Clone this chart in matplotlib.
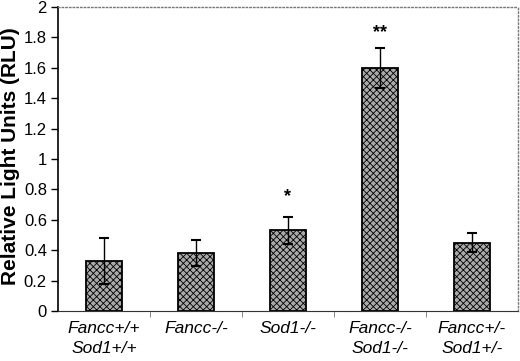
import matplotlib
matplotlib.use("Agg")
import matplotlib.pyplot as plt
import numpy as np

plt.rcParams['font.family'] = ['Liberation Sans', 'DejaVu Sans']
plt.rcParams['hatch.color'] = '#8a8a8a'
plt.rcParams['hatch.linewidth'] = 0.6

groups = ['Fancc+/+\nSod1+/+', 'Fancc-/-', 'Sod1-/-', 'Fancc-/-\nSod1-/-', 'Fancc+/-\nSod1+/-']
rlu = [0.33, 0.38, 0.53, 1.60, 0.45]
err = [0.15, 0.085, 0.09, 0.13, 0.06]
marks = ['', '', '*', '**', '']
mark_y = [0, 0, 0.75, 1.83, 0]

fig = plt.figure(figsize=(5.2, 3.61), dpi=100)
ax = fig.add_axes([58/520, 50/361, 460/520, 304/361])

x = np.arange(len(groups))
ax.bar(x, rlu, width=0.4, color='#aaaaaa', edgecolor='black', linewidth=1.3,
       hatch='xxxxx', zorder=2)
ax.errorbar(x, rlu, yerr=err, fmt='none', ecolor='black', elinewidth=1,
            capsize=3.5, capthick=1.5, zorder=3)

for xi, m, my in zip(x, marks, mark_y):
    if m:
        ax.text(xi, my, m, ha='center', va='center', fontsize=13, fontweight='bold')

ax.set_xlim(-0.5, len(groups) - 0.5)
ax.set_ylim(0, 2)
ax.set_yticks(np.arange(0, 2.01, 0.2))
ax.set_yticklabels(['0', '0.2', '0.4', '0.6', '0.8', '1', '1.2', '1.4', '1.6', '1.8', '2'])
ax.set_xticks(x)
ax.set_xticklabels(groups, fontstyle='italic', fontsize=12.5, linespacing=1.4)
ax.tick_params(axis='x', length=0, pad=7)
ax.set_xticks(np.arange(0.5, len(groups) - 0.5), minor=True)
ax.tick_params(axis='x', which='minor', length=4, color='#777777')
ax.tick_params(axis='y', labelsize=12, length=5, width=1, pad=3)
ax.set_ylabel('Relative Light Units (RLU)', fontsize=15, fontweight='bold')
ax.yaxis.set_label_coords(-0.083, 0.51)

# 边框：上、右为灰色点线
for side in ['top', 'right']:
    ax.spines[side].set_linestyle(':')
    ax.spines[side].set_color('#777777')
    ax.spines[side].set_linewidth(1)
ax.spines['bottom'].set_linestyle((0, (1, 0.6)))
ax.spines['bottom'].set_color('#333333')
ax.spines['left'].set_linewidth(1.2)

fig.savefig('out.png', dpi=100)
